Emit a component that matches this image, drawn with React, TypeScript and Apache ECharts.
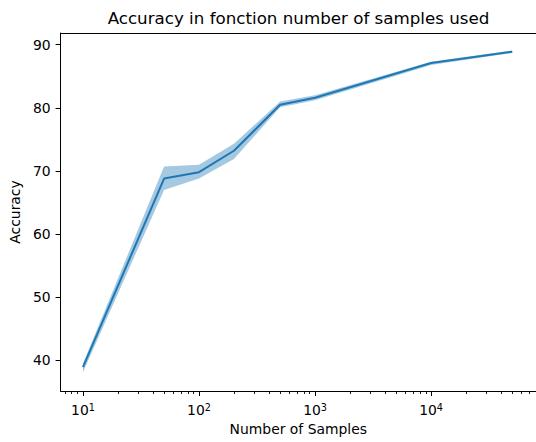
import React, { useEffect, useRef } from "react";
import * as echarts from "echarts";

const samples = [10, 50, 100, 200, 500, 1000, 10000, 50000];
const accuracyMean = [38.9, 68.8, 69.8, 73.2, 80.5, 81.6, 87.1, 88.9];
const accuracyLower = [38.1, 67.0, 68.8, 71.9, 80.1, 81.2, 86.8, 88.7];
const accuracyUpper = [39.5, 70.7, 71.0, 74.3, 81.0, 82.0, 87.3, 89.1];

const xMajorTicks = [10, 100, 1000, 10000];
const xMinorTicks = [
  7, 8, 9,
  20, 30, 40, 50, 60, 70, 80, 90,
  200, 300, 400, 500, 600, 700, 800, 900,
  2000, 3000, 4000, 5000, 6000, 7000, 8000, 9000,
  20000, 30000, 40000, 50000, 60000, 70000,
];
const yTicks = [40, 50, 60, 70, 80, 90];

const titleText = "Accuracy in fonction number of samples used";
const xName = "Number of Samples";
const yName = "Accuracy";

const FONT = "DejaVu Sans";
const BLUE = "#1f77b4";
const X_MIN = 0.807;
const X_MAX = 4.904;
const Y_MIN = 35.13;
const Y_MAX = 91.86;

const lx = (v: number) => Math.log10(v);

export default function App() {
  const ref = useRef<HTMLDivElement>(null);
  useEffect(() => {
    if (!ref.current) return;
    const chart = echarts.init(ref.current, null, { renderer: "svg" });
    chart.setOption({
      animation: false,
      backgroundColor: "#fff",
      textStyle: { fontFamily: FONT },
      grid: { left: 59, top: 33, width: 481, height: 358, show: false, containLabel: false },
      graphic: [
        {
          type: "text",
          x: 298.5,
          y: 9,
          style: {
            text: titleText,
            fontSize: 16.7,
            fontFamily: FONT,
            fill: "#000",
            align: "center",
            verticalAlign: "top",
          },
        },
      ],
      xAxis: [
        {
          type: "value",
          gridIndex: 0,
          position: "bottom",
          min: X_MIN,
          max: X_MAX,
          splitLine: { show: false },
          axisLine: { show: true, lineStyle: { color: "#000", width: 1 } },
          axisTick: {
            show: true,
            length: 5,
            lineStyle: { color: "#000", width: 1 },
            customValues: xMajorTicks.map(lx),
          },
          axisLabel: {
            show: true,
            margin: 11,
            customValues: xMajorTicks.map(lx),
            formatter: (v: number) => `{b|10}{s|${Math.round(v)}}`,
            rich: {
              b: { fontSize: 13.9, fontFamily: FONT, color: "#000", lineHeight: 16 },
              s: { fontSize: 9.7, fontFamily: FONT, color: "#000", lineHeight: 10, verticalAlign: "top" },
            },
          },
          name: xName,
          nameLocation: "middle",
          nameGap: 30,
          nameTextStyle: { fontSize: 13.9, fontFamily: FONT, color: "#000" },
        },
        {
          type: "value",
          gridIndex: 0,
          position: "bottom",
          min: X_MIN,
          max: X_MAX,
          splitLine: { show: false },
          axisLine: { show: false },
          axisLabel: { show: false },
          axisTick: {
            show: true,
            length: 3,
            lineStyle: { color: "#000", width: 0.9 },
            customValues: xMinorTicks.map(lx),
          },
        },
        {
          type: "value",
          gridIndex: 0,
          position: "top",
          min: X_MIN,
          max: X_MAX,
          splitLine: { show: false },
          axisLine: { show: true, lineStyle: { color: "#000", width: 1 } },
          axisLabel: { show: false },
          axisTick: { show: false },
        },
      ],
      yAxis: {
        type: "value",
        min: Y_MIN,
        max: Y_MAX,
        splitLine: { show: false },
        axisLine: { show: true, lineStyle: { color: "#000", width: 1 } },
        axisTick: {
          show: true,
          length: 5,
          lineStyle: { color: "#000", width: 1 },
          customValues: yTicks,
        },
        axisLabel: {
          show: true,
          margin: 10,
          customValues: yTicks,
          fontSize: 13.9,
          fontFamily: FONT,
          color: "#000",
          formatter: (v: number) => String(Math.round(v)),
        },
        name: yName,
        nameLocation: "middle",
        nameGap: 28,
        nameTextStyle: { fontSize: 13.9, fontFamily: FONT, color: "#000" },
      },
      series: [
        {
          type: "custom",
          xAxisIndex: 0,
          yAxisIndex: 0,
          z: 1,
          silent: true,
          clip: true,
          encode: { x: 0, y: [1, 2] },
          data: samples.map((s, i) => [lx(s), accuracyLower[i], accuracyUpper[i]]),
          renderItem: (params: any, api: any) => {
            if (params.dataIndex !== 0) return null;
            const up = samples.map((s, i) => api.coord([lx(s), accuracyUpper[i]]));
            const lo = samples.map((s, i) => api.coord([lx(s), accuracyLower[i]])).reverse();
            return {
              type: "polygon",
              shape: { points: [...up, ...lo] },
              style: { fill: BLUE, opacity: 0.4 },
            };
          },
        },
        {
          type: "line",
          xAxisIndex: 0,
          yAxisIndex: 0,
          z: 2,
          symbol: "none",
          showSymbol: false,
          silent: true,
          lineStyle: { color: BLUE, width: 2 },
          data: samples.map((s, i) => [lx(s), accuracyMean[i]]),
        },
      ],
    });
    return () => chart.dispose();
  }, []);
  return (
    <div
      ref={ref}
      style={{ position: "fixed", left: 0, top: 0, width: 536, height: 442 }}
    />
  );
}
